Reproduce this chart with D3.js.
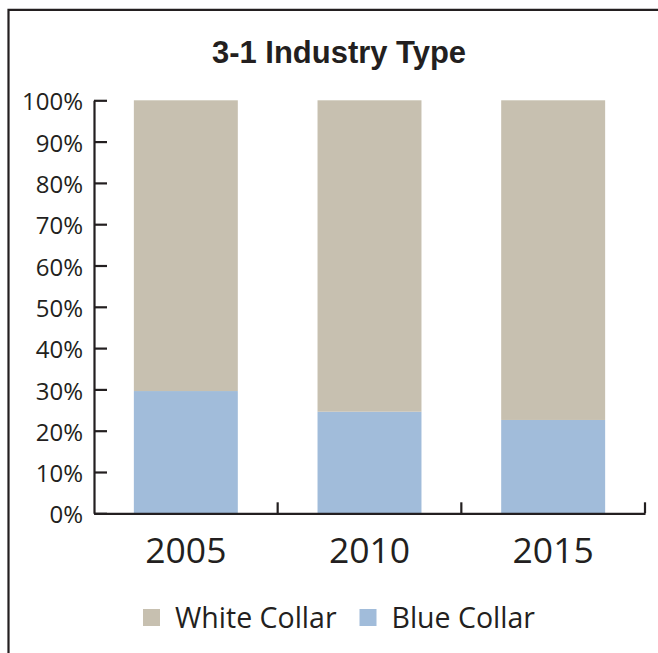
<!DOCTYPE html>
<html><head><meta charset="utf-8">
<script src="https://cdn.jsdelivr.net/npm/d3@7"></script>
<style>html,body{margin:0;padding:0;background:#fff;}svg{display:block;}</style>
</head><body>
<svg id="c" width="658" height="653"></svg>
<script>
const categories = ["2005", "2010", "2015"];
const blueCollar = [29.6, 24.6, 22.6];
const whiteCollar = [70.4, 75.4, 77.4];
const seriesNames = ["White Collar", "Blue Collar"];
const seriesColors = ["#c7c0b0", "#a1bcda"];
const yTicks = [0,10,20,30,40,50,60,70,80,90,100];
const title = "3-1 Industry Type";

const svg = d3.select("#c");
const ink = "#231f20";
const L = 94, R = 645, T = 100.3, B = 513.3;

// frame
svg.append("path").attr("d", "M8.5,660 V9.8 H670").attr("fill","none").attr("stroke",ink).attr("stroke-width",2.2);

svg.append("text").attr("x",212).attr("y",63).attr("text-anchor","start")
  .attr("font-family","'Liberation Sans','Arial',sans-serif").attr("font-weight","bold")
  .attr("font-size",32).attr("fill",ink)
  .attr("textLength",254).attr("lengthAdjust","spacingAndGlyphs").text(title);

const x = d3.scaleBand().domain(categories).range([L, R]).paddingInner(0).paddingOuter(0);
const y = d3.scaleLinear().domain([0,100]).range([B, T]);

const data = categories.map((c,i)=>({cat:c, blue:blueCollar[i], white:whiteCollar[i]}));
const stack = d3.stack().keys(["blue","white"])(data);
const colorOf = {blue: seriesColors[1], white: seriesColors[0]};
const bw = x.bandwidth()*0.566;
stack.forEach(s=>{
  svg.append("g").selectAll("rect").data(s).join("rect")
    .attr("x", d=>x(d.data.cat)+(x.bandwidth()-bw)/2)
    .attr("width", bw)
    .attr("y", d=>y(d[1]))
    .attr("height", d=>y(d[0])-y(d[1]))
    .attr("fill", colorOf[s.key]);
});

// y axis
const yAxis = d3.axisLeft(y).tickValues(yTicks).tickFormat(d=>d+"%").tickSizeInner(-13).tickSizeOuter(0).tickPadding(24);
const gy = svg.append("g").attr("transform",`translate(${L},0)`).call(yAxis);
gy.select(".domain").attr("stroke",ink).attr("stroke-width",2.2);
gy.selectAll(".tick line").attr("stroke",ink).attr("stroke-width",2.2);
gy.selectAll(".tick text").attr("font-family","'Open Sans',sans-serif").attr("font-size",24)
  .attr("fill",ink).attr("dy","0.4em").attr("x",-11);

// x axis
const xAxis = d3.axisBottom(x).tickSize(0).tickPadding(14);
const gx = svg.append("g").attr("transform",`translate(0,${B})`).call(xAxis);
gx.select(".domain").attr("stroke",ink).attr("stroke-width",2.2);
gx.selectAll(".tick text").attr("font-family","'Open Sans',sans-serif").attr("font-size",35.5)
  .attr("fill",ink).attr("dy","0").attr("y",49.5);
const bounds = categories.map(c=>x(c)+x.bandwidth());
gx.selectAll("line.sep").data(bounds).join("line").attr("class","sep")
  .attr("x1",d=>d).attr("x2",d=>d).attr("y1",0).attr("y2",-11).attr("stroke",ink).attr("stroke-width",2.2);

// legend
const legendX = [143, 359.5];
const lg = svg.append("g");
seriesNames.forEach((n,i)=>{
  lg.append("rect").attr("x",legendX[i]).attr("y",609).attr("width",17).attr("height",17).attr("fill",seriesColors[i]);
  lg.append("text").attr("x",legendX[i]+32).attr("y",628).attr("font-family","'Open Sans',sans-serif")
    .attr("font-size",28.5).attr("fill",ink).text(n);
});
</script>
</body></html>
